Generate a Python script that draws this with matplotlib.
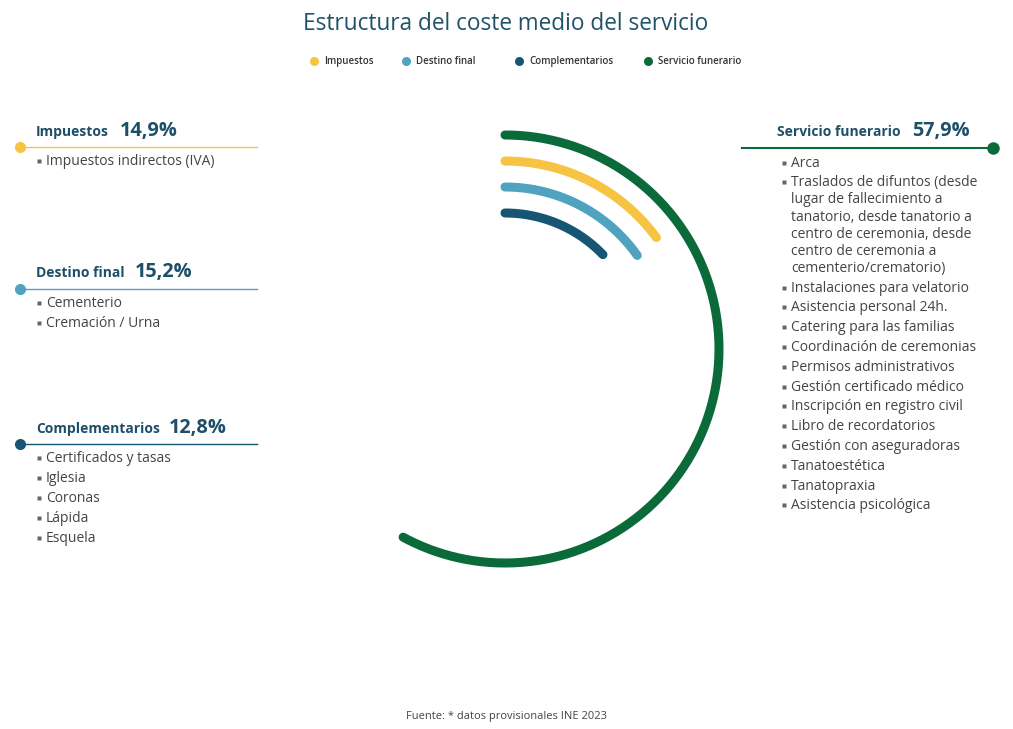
import numpy as np
import matplotlib.pyplot as plt

plt.rcParams['font.family'] = ['Open Sans', 'DejaVu Sans']

# datos
categorias = ['Impuestos', 'Destino final', 'Complementarios', 'Servicio funerario']
valores = [14.9, 15.2, 12.8, 57.9]
colores = ['#f6c343', '#4fa3bf', '#175673', '#0b6a39']

items_impuestos = ['Impuestos indirectos (IVA)']
items_destino = ['Cementerio', 'Cremación / Urna']
items_complementarios = ['Certificados y tasas', 'Iglesia', 'Coronas', 'Lápida', 'Esquela']
items_servicio = [
    'Arca',
    'Traslados de difuntos (desde\nlugar de fallecimiento a\ntanatorio, desde tanatorio a\n'
    'centro de ceremonia, desde\ncentro de ceremonia a\ncementerio/crematorio)',
    'Instalaciones para velatorio',
    'Asistencia personal 24h.',
    'Catering para las familias',
    'Coordinación de ceremonias',
    'Permisos administrativos',
    'Gestión certificado médico',
    'Inscripción en registro civil',
    'Libro de recordatorios',
    'Gestión con aseguradoras',
    'Tanatoestética',
    'Tanatopraxia',
    'Asistencia psicológica',
]

W, H = 1013, 729
fig = plt.figure(figsize=(W / 100, H / 100), dpi=100)
fig.patch.set_facecolor('white')

# capa de texto en pixeles
ax = fig.add_axes([0, 0, 1, 1])
ax.set_xlim(0, W)
ax.set_ylim(H, 0)
ax.axis('off')

# arcos radiales
cx, cy, r0 = 505, 349, 214
pad = 12
pax = fig.add_axes([(cx - r0 - pad) / W, (H - cy - r0 - pad) / H,
                    2 * (r0 + pad) / W, 2 * (r0 + pad) / H], projection='polar')
pax.set_theta_zero_location('N')
pax.set_theta_direction(-1)
pax.set_ylim(0, r0 + pad)
pax.axis('off')
pax.patch.set_alpha(0)

orden = [3, 0, 1, 2]  # de fuera hacia dentro
for k, i in enumerate(orden):
    r = r0 - 26 * k
    th = np.linspace(0, valores[i] / 100 * 2 * np.pi, 300)
    pax.plot(th, np.full_like(th, r), color=colores[i], lw=6.5,
             solid_capstyle='round')

# titulo
titulo_c = '#1f5367'
ax.text(506, 24, 'Estructura del coste medio del servicio', ha='center', va='center',
        fontsize=16.3, color=titulo_c)

# leyenda
ley_x = [314, 406, 519, 648]
for i, x in enumerate(ley_x):
    ax.plot(x, 61, 'o', ms=6.5, color=colores[i], mec='none')
    ax.text(x + 10, 61.5, categorias[i], fontsize=7, fontweight='semibold',
            color='#333333', va='center')

def fmt(v):
    return f'{v:.1f}'.replace('.', ',') + '%'

texto_c = '#444444'
cab_c = '#1d4f68'

def viñeta(x, y):
    ax.plot(x, y - 0.5, 's', ms=2.3, color='#666666', mec='none')

# bloques izquierdos
bloques = [
    (0, items_impuestos, 131, 147, 120),
    (1, items_destino, 272, 289, 135),
    (2, items_complementarios, 428, 444, 169),
]
for i, items, yc, yl, xp in bloques:
    ax.text(36, yc + 1, categorias[i], fontsize=10, fontweight='bold', color=cab_c, va='center')
    ax.text(xp, yc, fmt(valores[i]), fontsize=14.3, fontweight='bold', color=cab_c, va='center')
    ax.plot([20, 257], [yl, yl], color=colores[i], lw=1)
    ax.plot(20, yl, 'o', ms=8, color=colores[i], mec='none')
    for j, it in enumerate(items):
        y = yl + 14 + 20 * j
        viñeta(39, y)
        ax.text(46, y, it, fontsize=10, color=texto_c, va='center')

# bloque derecho
i = 3
ax.text(901, 132, categorias[i], fontsize=10, fontweight='bold', color=cab_c,
        va='center', ha='right')
ax.text(912, 131, fmt(valores[i]), fontsize=14.3, fontweight='bold', color=cab_c, va='center')
ax.plot([742, 993], [148, 148], color=colores[i], lw=1.5)
ax.plot(993, 148, 'o', ms=9, color=colores[i], mec='none')
y = 163
for it in items_servicio:
    lineas = it.split('\n')
    viñeta(784, y)
    for k, ln in enumerate(lineas):
        ax.text(791, y + 17.1 * k, ln, fontsize=10, color=texto_c, va='center')
    y += 17.1 * (len(lineas) - 1) + 19.8

# fuente
ax.text(506, 717, 'Fuente: * datos provisionales INE 2023', fontsize=8, color=texto_c,
        ha='center', va='center')

fig.savefig('out.png', dpi=100, facecolor='white')
